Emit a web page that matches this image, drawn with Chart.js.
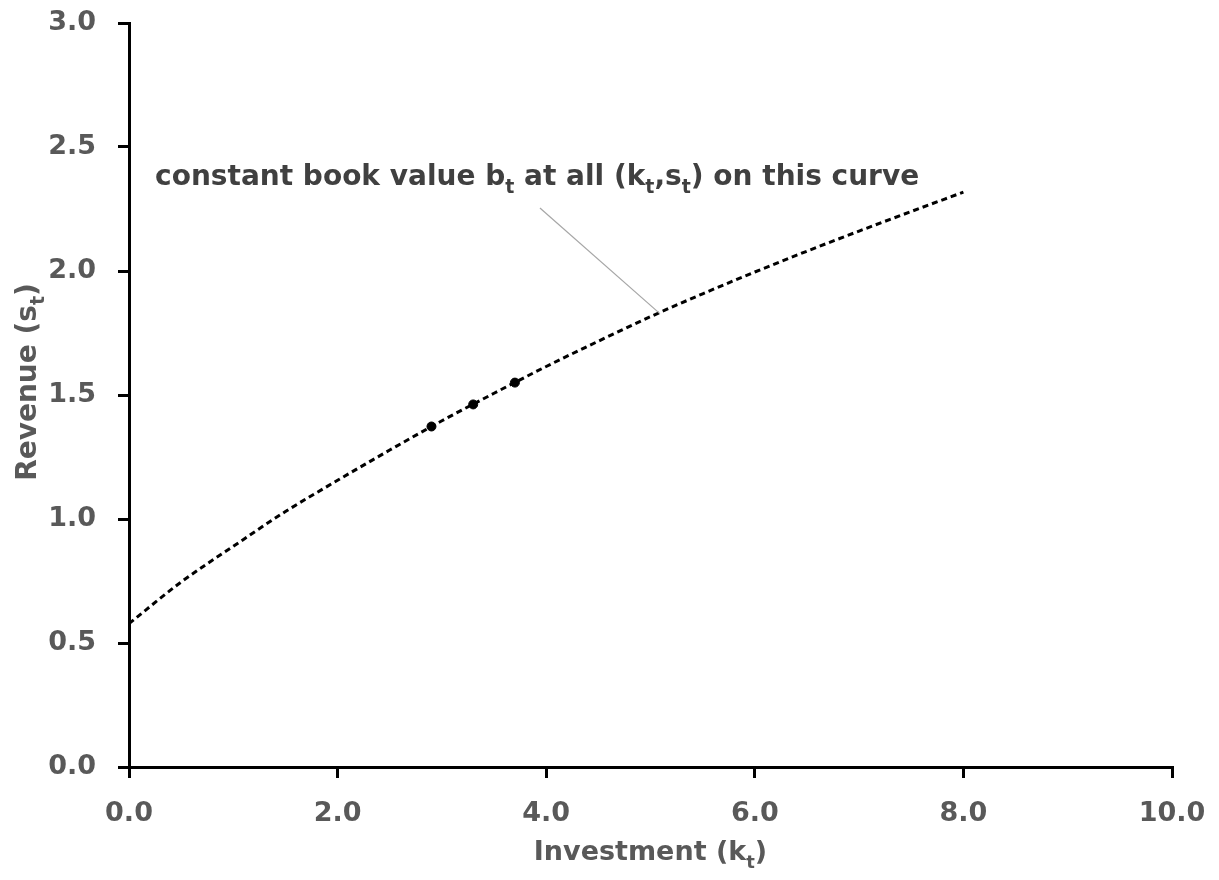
<!DOCTYPE html>
<html>
<head>
<meta charset="utf-8">
<title>Revenue vs Investment</title>
<script src="https://cdn.jsdelivr.net/npm/chart.js@4.4.1/dist/chart.umd.min.js"></script>
<style>
  html, body { margin: 0; padding: 0; background: #fff; }
  #wrap { width: 1219px; height: 880px; }
</style>
</head>
<body>
<div id="wrap"><canvas id="myChart"></canvas></div>
<script>
// curve data (investment k, revenue s)
const curveK = [0, 0.5, 1, 1.5, 2, 2.5, 3, 3.5, 4, 4.5, 5, 5.5, 6, 6.5, 7, 7.5, 8];
const curveS = [0.578, 0.746, 0.890, 1.030, 1.156, 1.278, 1.396, 1.507, 1.615, 1.717, 1.816, 1.908, 1.996, 2.080, 2.161, 2.240, 2.318];

// the three marked points
const pointK = [2.9, 3.3, 3.7];
const pointS = [1.373, 1.462, 1.550];

// tick labels
const xTicks = [0, 2, 4, 6, 8, 10];
const yTicks = [0, 0.5, 1.0, 1.5, 2.0, 2.5, 3.0];

const fontFamily = '"DejaVu Sans", sans-serif';
const labelGrey = '#595959';

// annotation text, pieces with sub:true are drawn as subscripts
const noteParts = [
  { t: 'constant book value b' }, { t: 't', sub: true },
  { t: ' at all (k' }, { t: 't', sub: true },
  { t: ',s' }, { t: 't', sub: true },
  { t: ') on this curve' }
];
const notePos = { k: 0.25, s: 2.345 };          // where the text starts (data coords)
const leaderFrom = { k: 3.94, s: 2.254 };       // leader line start
const leaderTo = { k: 5.09, s: 1.828 };         // leader line end (on the curve)

const curveData = curveK.map((k, i) => ({ x: k, y: curveS[i] }));
const pointData = pointK.map((k, i) => ({ x: k, y: pointS[i] }));

// draws text pieces with subscripts
function drawParts(ctx, parts, x, y, size, align) {
  const big = 'bold ' + size + 'px ' + fontFamily;
  const small = 'bold ' + Math.round(size * 0.68) + 'px ' + fontFamily;
  let total = 0;
  parts.forEach(p => {
    ctx.font = p.sub ? small : big;
    total += ctx.measureText(p.t).width;
  });
  let cx = x;
  if (align === 'center') cx = x - total / 2;
  parts.forEach(p => {
    ctx.font = p.sub ? small : big;
    ctx.fillText(p.t, cx, p.sub ? y + size * 0.28 : y);
    cx += ctx.measureText(p.t).width;
  });
}

const extrasPlugin = {
  id: 'extras',
  afterDraw(chart) {
    const ctx = chart.ctx;
    const xs = chart.scales.x;
    const ys = chart.scales.y;
    const area = chart.chartArea;
    ctx.save();
    ctx.textBaseline = 'alphabetic';

    // leader line
    ctx.strokeStyle = '#a6a6a6';
    ctx.lineWidth = 1.2;
    ctx.beginPath();
    ctx.moveTo(xs.getPixelForValue(leaderFrom.k), ys.getPixelForValue(leaderFrom.s));
    ctx.lineTo(xs.getPixelForValue(leaderTo.k), ys.getPixelForValue(leaderTo.s));
    ctx.stroke();

    // note text
    ctx.fillStyle = '#404040';
    drawParts(ctx, noteParts, xs.getPixelForValue(notePos.k), ys.getPixelForValue(notePos.s), 28, 'left');

    // x axis title
    ctx.fillStyle = labelGrey;
    drawParts(ctx, [{ t: 'Investment (k' }, { t: 't', sub: true }, { t: ')' }],
      (area.left + area.right) / 2, 860, 27, 'center');

    // y axis title, rotated
    ctx.translate(36, 382);
    ctx.rotate(-Math.PI / 2);
    drawParts(ctx, [{ t: 'Revenue (s' }, { t: 't', sub: true }, { t: ')' }], 0, 0, 28, 'center');
    ctx.restore();
  }
};

const myChart = document.getElementById('myChart');

let lineChart = new Chart(myChart, {
  type: 'line',
  data: {
    datasets: [{
      label: 'constant book value',
      data: curveData,
      borderColor: '#000',
      borderWidth: 3,
      borderDash: [6, 4],
      pointRadius: 0,
      cubicInterpolationMode: 'monotone',
      fill: false
    }, {
      type: 'scatter',
      label: 'points',
      data: pointData,
      backgroundColor: '#000',
      borderColor: '#000',
      pointRadius: 4.5,
      pointHoverRadius: 4.5
    }]
  },
  options: {
    responsive: true,
    maintainAspectRatio: false,
    animation: false,
    events: [],
    layout: { padding: { top: 23, right: 47, left: 0, bottom: 0 } },
    plugins: {
      legend: { display: false },
      tooltip: { enabled: false }
    },
    scales: {
      x: {
        type: 'linear',
        min: 0,
        max: 10,
        afterBuildTicks: s => { s.ticks = xTicks.map(v => ({ value: v })); },
        // fixed height, and don't let the end labels push the plot in
        afterFit: s => { s.height = 113; s.paddingLeft = 0; s.paddingRight = 0; },
        border: { color: '#000', width: 3 },
        grid: { drawOnChartArea: false, drawTicks: true, tickLength: 11, color: '#000', lineWidth: 3 },
        ticks: {
          padding: 20,
          color: labelGrey,
          font: { family: fontFamily, size: 27, weight: 'bold' },
          callback: v => v.toFixed(1),
          maxRotation: 0
        }
      },
      y: {
        type: 'linear',
        min: 0,
        max: 3,
        afterBuildTicks: s => { s.ticks = yTicks.map(v => ({ value: v })); },
        afterFit: s => { s.width = 129; s.paddingTop = 0; s.paddingBottom = 0; },
        border: { color: '#000', width: 3 },
        grid: { drawOnChartArea: false, drawTicks: true, tickLength: 11, color: '#000', lineWidth: 3 },
        ticks: {
          padding: 22,
          color: labelGrey,
          font: { family: fontFamily, size: 27, weight: 'bold' },
          callback: v => v.toFixed(1)
        }
      }
    }
  },
  plugins: [extrasPlugin]
});
</script>
</body>
</html>
